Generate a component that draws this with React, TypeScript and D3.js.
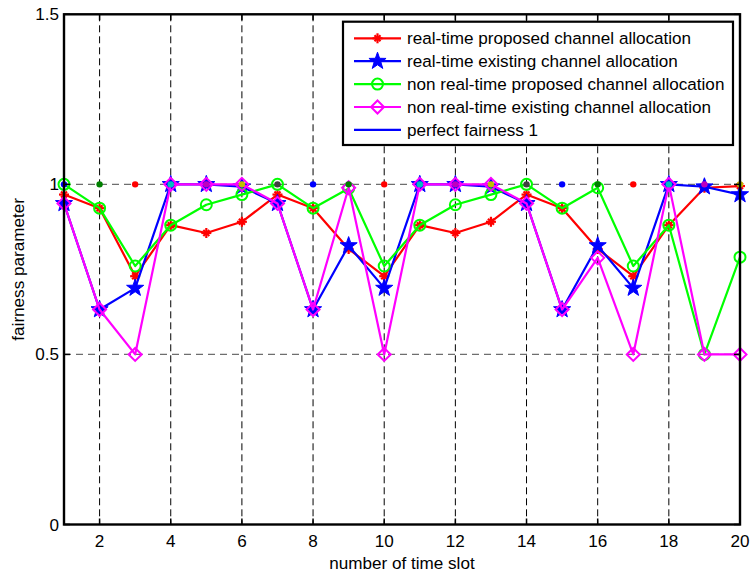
import React from "react";
import * as d3 from "d3";

const slots = d3.range(1, 21);
const rtProposed = [0.97, 0.93, 0.73, 0.88, 0.857, 0.89, 0.97, 0.93, 0.81, 0.73, 0.88, 0.857, 0.89, 0.97, 0.93, 0.81, 0.73, 0.88, 0.99, 0.995];
const rtExisting = [0.944, 0.632, 0.695, 1.0, 1.0, 0.993, 0.944, 0.632, 0.82, 0.695, 1.0, 1.0, 0.993, 0.944, 0.632, 0.82, 0.695, 1.0, 0.993, 0.97];
const nrtProposed = [1.0, 0.93, 0.76, 0.88, 0.94, 0.97, 1.0, 0.93, 0.988, 0.76, 0.88, 0.94, 0.97, 1.0, 0.93, 0.99, 0.76, 0.88, 0.5, 0.786];
const nrtExisting = [0.944, 0.632, 0.5, 1.0, 1.0, 1.0, 0.944, 0.632, 0.99, 0.5, 1.0, 1.0, 1.0, 0.944, 0.632, 0.784, 0.5, 1.0, 0.5, 0.5];
const perfect = slots.map(() => 1);
const dotColors = ["#0000ff", "#008000", "#ff0000", "#00bfbf", "#bf00bf", "#bfbf00", "#404040"];
const xTicks = [2, 4, 6, 8, 10, 12, 14, 16, 18, 20];
const yTicks = [0, 0.5, 1, 1.5];
const legendLabels = [
  "real-time proposed channel allocation",
  "real-time existing channel allocation",
  "non real-time proposed channel allocation",
  "non real-time existing channel allocation",
  "perfect fairness 1",
];

const W = 750, H = 577;
const L = 64, R = 740, T = 14.3, B = 524.5;
const FONT = "'Liberation Sans', Arial, Helvetica, sans-serif";
const FS = 17.1;

const x = d3.scaleLinear().domain([1, 20]).range([L, R]);
const y = d3.scaleLinear().domain([0, 1.5]).range([B, T]);

function starPath(r: number) {
  const pts: string[] = [];
  for (let i = 0; i < 10; i++) {
    const rr = i % 2 === 0 ? r : r * 0.4;
    const a = -Math.PI / 2 + (i * Math.PI) / 5;
    pts.push(`${(rr * Math.cos(a)).toFixed(2)},${(rr * Math.sin(a)).toFixed(2)}`);
  }
  return "M" + pts.join("L") + "Z";
}

type Kind = "asterisk" | "star" | "circle" | "diamond";
function Marker({ kind, cx, cy, color }: { kind: Kind; cx: number; cy: number; color: string }) {
  if (kind === "asterisk") {
    const r = 5;
    return (
      <g transform={`translate(${cx},${cy})`} stroke={color} strokeWidth={2.2}>
        <line x1={0} y1={-r} x2={0} y2={r} />
        <line x1={-r} y1={0} x2={r} y2={0} />
        <line x1={-r * 0.6} y1={-r * 0.6} x2={r * 0.6} y2={r * 0.6} />
        <line x1={-r * 0.6} y1={r * 0.6} x2={r * 0.6} y2={-r * 0.6} />
      </g>
    );
  }
  if (kind === "star") {
    return <path d={starPath(9)} transform={`translate(${cx},${cy})`} fill={color} stroke={color} strokeWidth={1} />;
  }
  if (kind === "circle") {
    return <circle cx={cx} cy={cy} r={5.5} fill="none" stroke={color} strokeWidth={2} />;
  }
  const s = 6.5;
  return (
    <path d={`M0,${-s}L${s},0L0,${s}L${-s},0Z`} transform={`translate(${cx},${cy})`} fill="none" stroke={color} strokeWidth={2} />
  );
}

const series: { data: number[]; color: string; kind: Kind }[] = [
  { data: rtProposed, color: "#ff0000", kind: "asterisk" },
  { data: rtExisting, color: "#0000ff", kind: "star" },
  { data: nrtProposed, color: "#00ff00", kind: "circle" },
  { data: nrtExisting, color: "#ff00ff", kind: "diamond" },
];

export default function App() {
  const line = d3.line<number>().x((_, i) => x(slots[i])).y((d) => y(d));
  const legX = 343, legY = 21.7, legW = 390, legH = 123.3;
  const rowY = (i: number) => 38.3 + i * 22.9;
  return (
    <svg width={W} height={H} style={{ position: "absolute", left: 0, top: 0, background: "#fff" }} fontFamily={FONT}>
      <rect x={0} y={0} width={W} height={H} fill="#fff" />
      {xTicks.filter((t) => t < 20).map((t) => (
        <line key={"vg" + t} x1={x(t)} x2={x(t)} y1={T} y2={B} stroke="#000" strokeWidth={1} strokeDasharray="7,4" />
      ))}
      {yTicks.filter((t) => t > 0 && t < 1.5).map((t) => (
        <line key={"hg" + t} x1={L} x2={R} y1={y(t)} y2={y(t)} stroke="#6e6e6e" strokeWidth={1.3} strokeDasharray="7,5" />
      ))}
      {series.map((s, si) => (
        <g key={"s" + si}>
          <path d={line(s.data) || ""} fill="none" stroke={s.color} strokeWidth={2.2} strokeLinejoin="round" />
          {s.data.map((v, i) => (
            <Marker key={i} kind={s.kind} cx={x(slots[i])} cy={y(v)} color={s.color} />
          ))}
        </g>
      ))}
      {perfect.map((v, i) => (
        <circle key={"p" + i} cx={x(slots[i])} cy={y(v)} r={3.2} fill={dotColors[i % dotColors.length]} />
      ))}
      <rect x={L} y={T} width={R - L} height={B - T} fill="none" stroke="#000" strokeWidth={2.4} />
      {xTicks.map((t) => (
        <g key={"xt" + t}>
          <line x1={x(t)} x2={x(t)} y1={B} y2={B - 6} stroke="#000" strokeWidth={1.5} />
          <line x1={x(t)} x2={x(t)} y1={T} y2={T + 6} stroke="#000" strokeWidth={1.5} />
          <text x={x(t)} y={547} fontSize={FS} textAnchor="middle" fill="#000">{t}</text>
        </g>
      ))}
      {yTicks.map((t) => (
        <g key={"yt" + t}>
          <line x1={L} x2={L + 6} y1={y(t)} y2={y(t)} stroke="#000" strokeWidth={1.5} />
          <line x1={R} x2={R - 6} y1={y(t)} y2={y(t)} stroke="#000" strokeWidth={1.5} />
          <text x={59} y={y(t) + 6} fontSize={FS} textAnchor="end" fill="#000">{t}</text>
        </g>
      ))}
      <text x={(L + R) / 2} y={569} fontSize={FS} textAnchor="middle" fill="#000">number of time slot</text>
      <text transform={`translate(24,${(T + B) / 2}) rotate(-90)`} fontSize={FS} textAnchor="middle" fill="#000">fairness parameter</text>
      <rect x={legX} y={legY} width={legW} height={legH} fill="#fff" stroke="#000" strokeWidth={2.2} />
      {legendLabels.map((lab, i) => {
        const ry = rowY(i);
        const s = series[i];
        const color = s ? s.color : "#0000ff";
        return (
          <g key={"lg" + i}>
            <line x1={354} x2={401} y1={ry} y2={ry} stroke={color} strokeWidth={2.2} />
            {s && <Marker kind={s.kind} cx={377.5} cy={ry} color={color} />}
            <text x={407} y={ry + 6} fontSize={FS} fill="#000">{lab}</text>
          </g>
        );
      })}
    </svg>
  );
}
